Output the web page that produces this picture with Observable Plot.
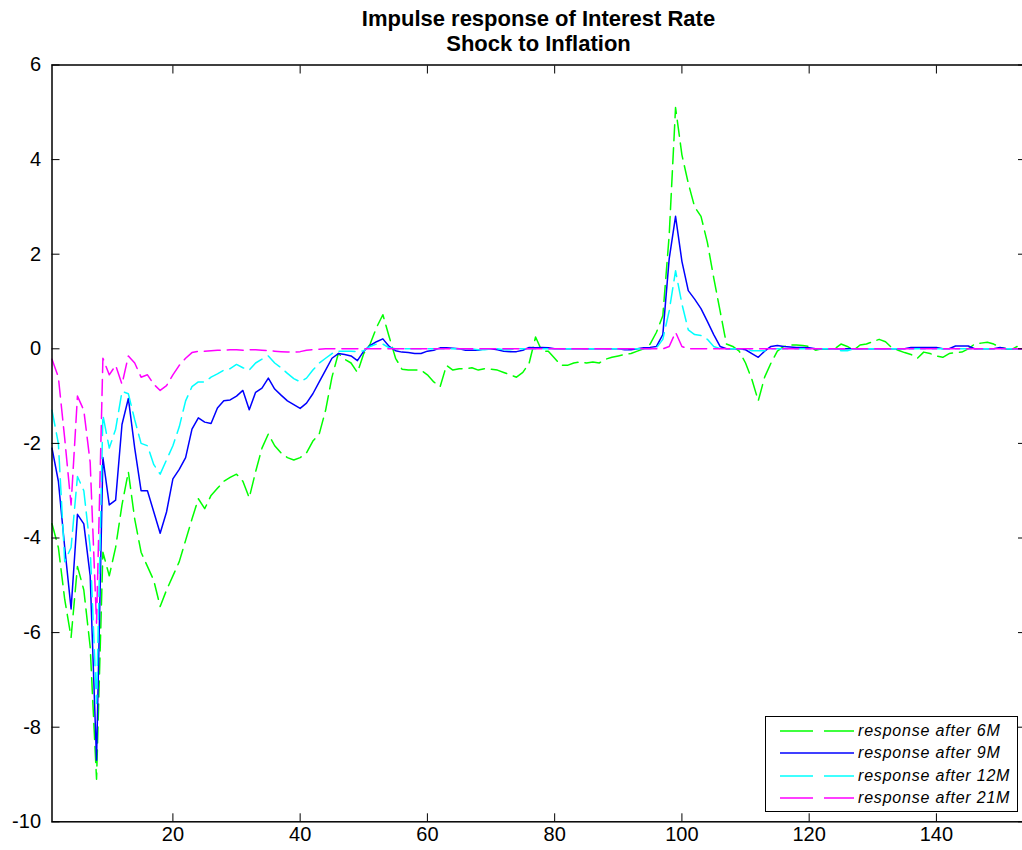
<!DOCTYPE html>
<html><head><meta charset="utf-8">
<script src="https://cdn.jsdelivr.net/npm/d3@7"></script>
<script src="https://cdn.jsdelivr.net/npm/@observablehq/plot@0.6"></script>
<style>
html,body{margin:0;padding:0;background:#fff;}
body{width:1022px;height:850px;overflow:hidden;position:relative;font-family:"Liberation Sans",Arial,sans-serif;color:#000;}
#title{height:55px;box-sizing:border-box;padding-top:6px;padding-left:51.5px;width:1025.5px;text-align:center;font-weight:bold;font-size:22px;line-height:25px;}
#legend{position:absolute;left:765px;top:716px;width:251px;height:94px;border:1px solid #000;background:#fff;}
#legend .row{position:absolute;left:0;width:251px;height:22px;}
#legend svg{position:absolute;left:13px;top:0;}
#legend span{position:absolute;left:92px;top:2px;font-style:italic;font-size:16px;letter-spacing:0.8px;white-space:nowrap;line-height:18px;}
</style></head><body>
<div id="title"><div>Impulse response of Interest Rate</div><div>Shock to Inflation</div></div>
<div id="chart"></div>
<div id="legend"></div>
<script>
// ---- data ----
const seriesNames = ["response after 6M", "response after 9M", "response after 12M", "response after 21M"];
const seriesColors = ["#00ff00", "#0000ff", "#00ffff", "#ff00ff"];
const seriesDash = ["16,7", null, "16,7", "16,7"];
const xTicks = [20, 40, 60, 80, 100, 120, 140];
const yTicks = [-10, -8, -6, -4, -2, 0, 2, 4, 6];

const resp6M = [
 -3.7, -4.2, -5.3, -6.1, -4.6, -5.1, -6.3, -9.1, -4.3, -4.8,
 -4.2, -3.3, -2.6, -3.6, -4.3, -4.6, -4.9, -5.45, -5.1, -4.8,
 -4.5, -4.05, -3.6, -3.17, -3.38, -3.1, -2.95, -2.8, -2.72, -2.65,
 -2.8, -3.15, -2.6, -2.1, -1.8, -2.05, -2.2, -2.3, -2.35, -2.3,
 -2.2, -1.95, -1.8, -1.3, -0.6, -0.1, -0.22, -0.3, -0.5, -0.1,
 0.1, 0.45, 0.72, 0.25, -0.2, -0.43, -0.45, -0.45, -0.45, -0.55,
 -0.7, -0.8, -0.35, -0.45, -0.42, -0.42, -0.4, -0.45, -0.42, -0.43,
 -0.45, -0.5, -0.55, -0.6, -0.5, -0.3, 0.25, -0.05, -0.05, -0.2,
 -0.35, -0.35, -0.3, -0.28, -0.3, -0.28, -0.3, -0.22, -0.18, -0.15,
 -0.12, -0.1, -0.05, 0, 0.1, 0.35, 0.7, 2.4, 5.1, 4.1,
 3.5, 3.0, 2.8, 2.25, 1.5, 0.8, 0.1, 0.05, -0.05, -0.3,
 -0.65, -1.1, -0.6, -0.3, -0.05, 0.05, 0.08, 0.08, 0.07, 0.05,
 -0.03, 0, 0, 0, 0.1, 0.05, -0.03, 0.08, 0.1, 0.15,
 0.2, 0.15, 0.02, -0.03, -0.08, -0.12, -0.2, -0.07, -0.1, -0.15,
 -0.18, -0.1, -0.08, -0.07, 0, 0.1, 0.12, 0.14, 0.1, 0.03,
 0, 0, 0.07, 0.14
];
const resp9M = [
 -2.1, -2.8, -4.2, -5.5, -3.5, -3.7, -4.8, -8.7, -2.3, -3.3,
 -3.2, -1.6, -1.05, -2.1, -3.0, -3.0, -3.45, -3.9, -3.45, -2.75,
 -2.55, -2.3, -1.7, -1.46, -1.55, -1.58, -1.25, -1.1, -1.08, -1.0,
 -0.88, -1.29, -0.92, -0.83, -0.62, -0.85, -0.98, -1.1, -1.18, -1.26,
 -1.15, -0.95, -0.7, -0.45, -0.2, -0.1, -0.12, -0.15, -0.25, -0.05,
 0.07, 0.15, 0.21, 0.05, -0.04, -0.07, -0.08, -0.1, -0.1, -0.05,
 -0.03, 0.02, 0.02, 0.01, 0, -0.03, -0.03, -0.03, 0, 0,
 -0.02, -0.05, -0.06, -0.06, -0.03, 0.03, 0.02, 0.03, 0.02, 0,
 0, 0, 0, 0, 0, 0, 0, 0, 0, 0,
 -0.02, -0.02, 0, 0.02, 0.03, 0.05, 0.3, 1.9, 2.8, 1.85,
 1.23, 1.05, 0.85, 0.58, 0.3, 0.05, 0, 0, 0, -0.02,
 -0.1, -0.18, -0.05, 0.05, 0.07, 0.05, 0.04, 0.03, 0.03, 0.02,
 0, 0, 0, 0, 0, 0, 0, 0, 0, 0,
 0, 0, 0, 0, 0, 0.03, 0.03, 0.03, 0.03, 0.03,
 0, 0, 0.06, 0.06, 0.06, 0, 0, 0, 0, 0.03,
 0, 0, 0, 0
];
const resp12M = [
 -1.3, -2.0, -4.5, -4.2, -2.7, -3.0, -4.2, -7.5, -1.4, -2.1,
 -1.7, -0.9, -0.95, -1.5, -2.0, -2.05, -2.45, -2.65, -2.35, -2.05,
 -1.65, -1.1, -0.8, -0.7, -0.7, -0.6, -0.53, -0.45, -0.42, -0.33,
 -0.4, -0.45, -0.3, -0.22, -0.15, -0.3, -0.4, -0.52, -0.63, -0.7,
 -0.62, -0.45, -0.3, -0.2, -0.1, -0.05, -0.05, -0.05, -0.06, -0.04,
 0.05, 0.1, 0.1, 0.02, 0, 0, 0, 0, 0, 0,
 0, 0, 0, 0, 0, 0, 0, -0.02, -0.02, 0,
 0, -0.02, -0.02, 0, 0, 0, 0, 0, 0, 0,
 0, 0, 0, 0, 0, 0, 0, 0, 0, 0,
 0, 0, 0, 0, 0, 0.02, 0.2, 0.8, 1.65, 0.95,
 0.4, 0.3, 0.28, 0.2, 0.05, 0, 0, 0, 0, 0,
 -0.04, -0.04, -0.04, 0, 0, 0, 0, 0, 0, 0,
 0, 0, 0, 0, -0.04, -0.04, 0, 0, 0, 0,
 0, 0, 0, 0, 0, 0, 0, 0, 0, 0,
 0, 0, 0, 0, 0, 0, 0, 0, 0, 0,
 0, 0, 0, 0
];
const resp21M = [
 -0.22, -0.6, -1.9, -3.3, -1.0, -1.3, -2.4, -5.8, -0.2, -0.55,
 -0.35, -0.75, -0.15, -0.3, -0.6, -0.55, -0.75, -0.88, -0.78, -0.55,
 -0.35, -0.2, -0.08, -0.05, -0.05, -0.04, -0.03, -0.03, -0.02, -0.02,
 -0.03, -0.02, -0.02, -0.03, -0.04, -0.05, -0.06, -0.07, -0.07, -0.06,
 -0.03, -0.02, -0.01, 0, 0, 0, 0, 0, 0, 0,
 0, 0, 0, 0, 0, 0, 0, 0, 0, 0,
 0, 0, 0, 0, 0, 0, 0, 0, 0, 0,
 0, 0, 0, 0, 0, 0, 0, 0, 0, 0,
 0, 0, 0, 0, 0, 0, 0, 0, 0, 0,
 0, 0, 0, 0, 0, 0, 0, 0.05, 0.35, 0.05,
 0, 0, 0, 0, 0, 0, 0, 0, 0, 0,
 0, 0, 0, 0, 0, 0, 0, 0, 0, 0,
 0, 0, 0, 0, 0, 0, 0, 0, 0, 0,
 0, 0, 0, 0, 0, 0, 0, 0, 0, 0,
 0, 0, 0, 0, 0, 0, 0, 0, 0, 0,
 0, 0, 0, 0
];
const seriesValues = [resp6M, resp9M, resp12M, resp21M];

// ---- build table ----
const seriesData = seriesValues.map((vals, k) =>
  vals.map((v, i) => ({step: i + 1, value: v, series: seriesNames[k]})));

const lineMarks = seriesData.map((d, k) => Plot.line(d, {
  x: "step", y: "value",
  stroke: seriesColors[k], strokeWidth: 1.5,
  strokeDasharray: seriesDash[k] ?? undefined,
  strokeLinejoin: "round"
}));

const plainFormat = d => String(d);

const chart = Plot.plot({
  width: 1022, height: 795,
  marginLeft: 51.5, marginRight: -3, marginTop: 9.5, marginBottom: 28.7,
  style: {fontFamily: "'Liberation Sans', Arial, sans-serif", fontSize: "20px", color: "#000", background: "#fff", overflow: "visible"},
  x: {domain: [1, 154]},
  y: {domain: [-10, 6]},
  marks: [
    ...lineMarks,
    Plot.frame({stroke: "#000", strokeWidth: 1.5}),
    Plot.axisY(yTicks, {anchor: "left", tickSize: -8, tickPadding: 19, tickFormat: plainFormat, label: null, fontSize: 20}),
    Plot.axisY(yTicks, {anchor: "right", tickSize: -8, tickFormat: () => "", label: null}),
    Plot.axisX(xTicks, {anchor: "bottom", tickSize: -8, tickPadding: 13, tickFormat: plainFormat, label: null, fontSize: 20}),
    Plot.axisX(xTicks, {anchor: "top", tickSize: -8, tickFormat: () => "", label: null})
  ]
});
document.getElementById("chart").appendChild(chart);

// ---- legend ----
const legend = d3.select("#legend");
seriesNames.forEach((name, k) => {
  const row = legend.append("div").attr("class", "row").style("top", (3 + k * 22.3) + "px");
  const svg = row.append("svg").attr("width", 76).attr("height", 22);
  svg.append("line").attr("x1", 1).attr("x2", 75).attr("y1", 11).attr("y2", 11)
    .attr("stroke", seriesColors[k]).attr("stroke-width", 1.5)
    .attr("stroke-dasharray", seriesDash[k] ? "33,11" : null);
  row.append("span").text(name);
});
</script>
</body></html>
